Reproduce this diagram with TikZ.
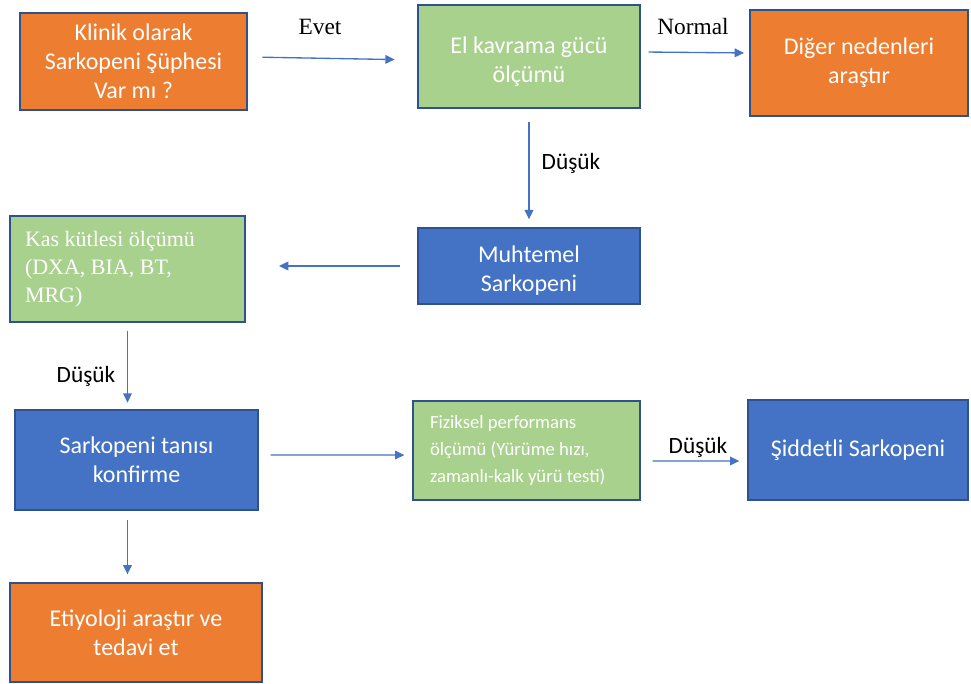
\documentclass[tikz,border=0pt]{standalone}
\usepackage{fontspec}
\setmainfont{Carlito}
\newfontfamily\timesf{Liberation Serif}
\usetikzlibrary{arrows.meta,positioning}
\definecolor{turuncu}{RGB}{237,125,49}
\definecolor{yesil}{RGB}{169,209,142}
\definecolor{mavi}{RGB}{68,114,196}
\definecolor{kenar}{RGB}{47,82,143}

\begin{document}
\begin{tikzpicture}[x=0.75pt, y=-0.75pt,
  box/.style={draw=kenar, line width=1pt, align=center, text=white, inner sep=2pt,
    font=\fontsize{18}{21.75}\selectfont},
  orng/.style={box, fill=turuncu},
  grn/.style={box, fill=yesil},
  blu/.style={box, fill=mavi},
  lbl/.style={font=\fontsize{17.5}{21}\selectfont},
  arr/.style={-{Triangle[length=7pt, width=6.5pt]}, mavi, line width=1pt}]

\useasboundingbox (0,0) rectangle (971,684);

\node[orng, minimum width=170.25pt, minimum height=72.75pt] (supheli) at (133.5,61.5)
  {Klinik olarak\\Sarkopeni Şüphesi\\Var mı ?};
\node[grn, minimum width=166.5pt, minimum height=77.25pt] (kavrama) at (529,56.5)
  {\\[-2pt]El kavrama gücü\\ölçümü};
\node[orng, minimum width=163.5pt, minimum height=79.5pt] (diger) at (859,63)
  {Diğer nedenleri\\araştır};
\node[blu, minimum width=166.5pt, minimum height=57pt] (muhtemel) at (529,266)
  {\\[-2pt]Muhtemel\\Sarkopeni};
\node[grn, minimum height=79.5pt, text width=153.75pt, inner xsep=11.25pt, align=flush left,
  font=\timesf\fontsize{16.5}{21}\selectfont] (kas) at (127.5,269)
  {Kas kütlesi ölçümü\\(DXA, BIA, BT,\\MRG)};
\node[blu, minimum width=182.25pt, minimum height=75pt] (tani) at (136.5,460)
  {Sarkopeni tanısı\\konfirme};
\node[grn, minimum height=74.25pt, text width=144.75pt, inner xsep=12.75pt, align=flush left,
  font=\fontsize{14}{20.6}\selectfont] (fiziksel) at (526.5,450.5)
  {Fiziksel performans\\ölçümü (Yürüme hızı,\\zamanlı-kalk yürü testi)};
\node[blu, minimum width=165pt, minimum height=75pt] (siddetli) at (858,450)
  {Şiddetli Sarkopeni};
\node[orng, minimum width=189pt, minimum height=74.25pt] (etiyoloji) at (136,632.5)
  {Etiyoloji araştır ve\\tedavi et};

% etiketler
\node[lbl, font=\timesf\fontsize{17.5}{21}\selectfont] (evet) at (320,27) {Evet};
\node[lbl, font=\timesf\fontsize{17.5}{21}\selectfont] (normal) at (693,27) {Normal};
\node[lbl] (dusuk1) at (571,163) {Düşük};
\node[lbl] (dusuk2) at (86,376) {Düşük};
\node[lbl] (dusuk3) at (698,447) {Düşük};

\draw[arr, shorten <=11pt, shorten >=17pt] ([yshift=3.4pt]supheli.east) -- ([yshift=-2.6pt]kavrama.west);
\draw[arr, shorten <=6pt, shorten >=4pt] ([yshift=3.4pt]kavrama.east) -- ([yshift=7.5pt]diger.west);
\draw[arr, shorten <=10pt, shorten >=6pt] (kavrama.south) -- (muhtemel.north);
\draw[arr, shorten <=13pt, shorten >=25pt] (muhtemel.west) -- (kas.east |- muhtemel.west);
\draw[arr, shorten <=6pt, shorten >=5pt] (kas.south) -- (kas.south |- tani.north);
\draw[arr, shorten <=9pt, shorten >=6pt] ([yshift=3.75pt]tani.east) -- ([yshift=-3.4pt]fiziksel.west);
\draw[arr, shorten <=9pt, shorten >=6pt] ([yshift=-7.9pt]fiziksel.east) -- ([yshift=-8.25pt]siddetli.west);
\draw[arr, shorten <=7pt, shorten >=6pt] (tani.south -| kas.south) -- (etiyoloji.north -| kas.south);
\end{tikzpicture}
\end{document}
